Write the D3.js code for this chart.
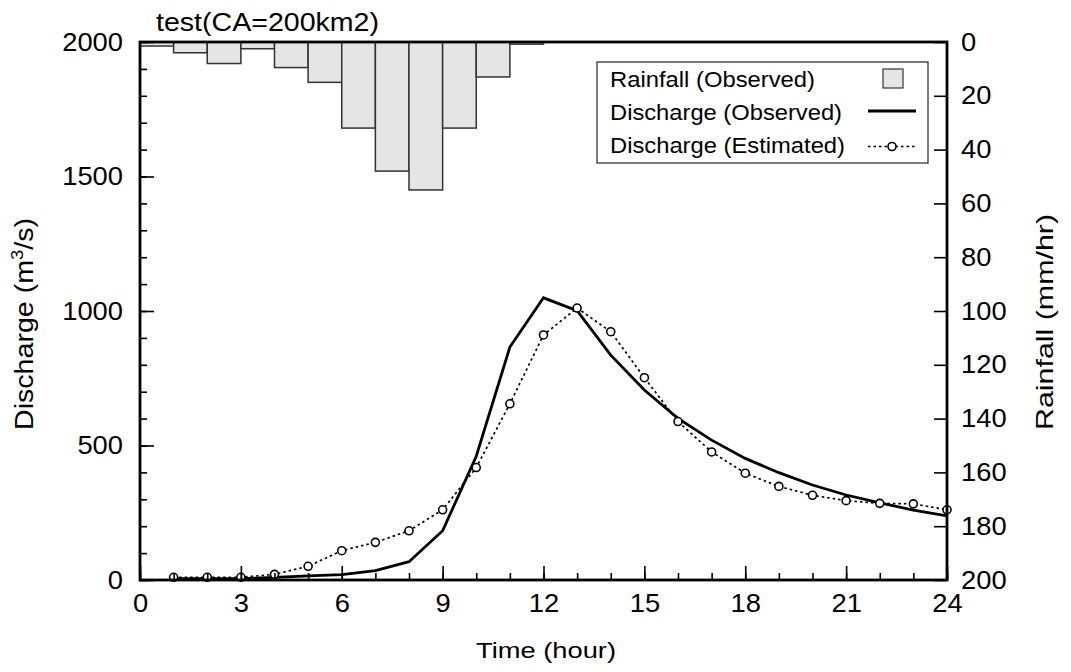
<!DOCTYPE html>
<html>
<head>
<meta charset="utf-8">
<script src="https://cdn.jsdelivr.net/npm/d3@7"></script>
<style>
  body { margin: 0; background: #fff; }
  svg text { font-family: "Liberation Sans", Arial, sans-serif; fill: #000; }
</style>
</head>
<body>
<svg id="chart" width="1071" height="672"></svg>
<script>
// rainfall per hour, bar i covers hour i-1..i
const rainHours = [1, 2, 3, 4, 5, 6, 7, 8, 9, 10, 11, 12];
const rainfall = [1.5, 4, 8, 2.5, 9.5, 15, 32, 48, 55, 32, 13, 0.8];

const hours = [1, 2, 3, 4, 5, 6, 7, 8, 9, 10, 11, 12, 13, 14, 15, 16, 17, 18, 19, 20, 21, 22, 23, 24];
const qObserved = [5, 5, 5, 10, 15, 20, 35, 68, 183, 460, 866, 1049, 1001, 836, 706, 601, 520, 452, 399, 353, 316, 287, 260, 238];
const qEstimated = [10, 10, 10, 21, 51, 109, 140, 183, 261, 418, 655, 911, 1011, 923, 752, 589, 476, 397, 348, 315, 295, 285, 283, 261];

const xTicks = [0, 3, 6, 9, 12, 15, 18, 21, 24];
const qTicks = [0, 500, 1000, 1500, 2000];
const rTicks = [0, 20, 40, 60, 80, 100, 120, 140, 160, 180, 200];

const legendItems = ['Rainfall (Observed)', 'Discharge (Observed)', 'Discharge (Estimated)'];

const margin = { top: 42, left: 140, right: 124, bottom: 92 };
const W = 1071, H = 672;
const w = W - margin.left - margin.right;
const h = H - margin.top - margin.bottom;

// the source renderer draws text a bit wider than Liberation Sans
const stretch = (sel, len) => sel.attr('textLength', len).attr('lengthAdjust', 'spacingAndGlyphs');

const svg = d3.select('#chart');
const g = svg.append('g').attr('transform', `translate(${margin.left},${margin.top})`);

const x = d3.scaleLinear().domain([0, 24]).range([0, w]);
const yQ = d3.scaleLinear().domain([0, 2000]).range([h, 0]);
const yR = d3.scaleLinear().domain([0, 200]).range([0, h]);

// rainfall bars hanging from the top
g.selectAll('rect.rain')
    .data(rainHours)
    .enter()
    .append('rect')
    .attr('class', 'rain')
    .attr('x', (d) => x(d - 1))
    .attr('y', 0)
    .attr('width', (d) => x(d) - x(d - 1))
    .attr('height', (d, i) => yR(rainfall[i]))
    .style('fill', '#e5e5e5')
    .style('stroke', '#333')
    .style('stroke-width', 1.5);

// lines
const line = d3.line().x((d, i) => x(hours[i])).y((d) => yQ(d));

g.append('path')
    .datum(qObserved)
    .attr('d', line)
    .style('fill', 'none')
    .style('stroke', '#000')
    .style('stroke-width', 2.8);

g.append('path')
    .datum(qEstimated)
    .attr('d', line)
    .style('fill', 'none')
    .style('stroke', '#000')
    .style('stroke-width', 1.7)
    .style('stroke-dasharray', '2.5,3');

g.selectAll('circle.est')
    .data(qEstimated)
    .enter()
    .append('circle')
    .attr('class', 'est')
    .attr('cx', (d, i) => x(hours[i]))
    .attr('cy', (d) => yQ(d))
    .attr('r', 4)
    .style('fill', '#fff')
    .style('stroke', '#000')
    .style('stroke-width', 1.6);

// axes with inward ticks
const xAxis = g.append('g').attr('transform', `translate(0,${h})`)
    .call(d3.axisBottom(x).tickValues(xTicks).tickSize(-14).tickPadding(8).tickFormat(d3.format('d')));
g.append('g').attr('transform', `translate(0,${h})`)
    .call(d3.axisBottom(x).tickValues(d3.range(0, 25)).tickSize(-7).tickFormat(''));

const yAxisL = g.append('g')
    .call(d3.axisLeft(yQ).tickValues(qTicks).tickSize(-14).tickPadding(17).tickFormat(d3.format('d')));
g.append('g')
    .call(d3.axisLeft(yQ).tickValues(d3.range(0, 2001, 100)).tickSize(-7).tickFormat(''));

const yAxisR = g.append('g').attr('transform', `translate(${w},0)`)
    .call(d3.axisRight(yR).tickValues(rTicks).tickSize(-13).tickPadding(14).tickFormat(d3.format('d')));

g.selectAll('.domain').remove();
g.selectAll('.tick line').style('stroke', '#000').style('stroke-width', 1.6);
g.selectAll('.tick text')
    .style('font-size', '25px')
    .style('font-family', '"Liberation Sans", Arial, sans-serif')
    .each(function () {
        const t = d3.select(this);
        if (t.text() !== '') stretch(t, t.text().length * 15.2);
    });
xAxis.selectAll('.tick text').attr('dy', '0.95em');

// frame
g.append('rect')
    .attr('x', 0).attr('y', 0).attr('width', w).attr('height', h)
    .style('fill', 'none').style('stroke', '#000').style('stroke-width', 2.8);

// titles
stretch(svg.append('text').attr('x', 156).attr('y', 31).style('font-size', '25px').text('test(CA=200km2)'), 223);

stretch(svg.append('text')
    .attr('x', 476).attr('y', 658)
    .style('font-size', '22px').text('Time (hour)'), 140);

const yl = svg.append('text')
    .attr('transform', `translate(33,430) rotate(-90)`)
    .style('font-size', '25px');
yl.append('tspan').text('Discharge (m');
yl.append('tspan').attr('dy', -10).style('font-size', '16px').text('3');
yl.append('tspan').attr('dy', 10).text('/s)');
stretch(yl, 212);

stretch(svg.append('text')
    .attr('transform', `translate(1053,430) rotate(-90)`)
    .style('font-size', '24px').text('Rainfall (mm/hr)'), 216);

// legend
const lg = svg.append('g');
lg.append('rect').attr('x', 597).attr('y', 62).attr('width', 331).attr('height', 101)
    .style('fill', '#fff').style('stroke', '#333').style('stroke-width', 1.3);

const legendWidths = [205, 232, 235];
lg.selectAll('text.leg')
    .data(legendItems)
    .enter()
    .append('text')
    .attr('class', 'leg')
    .attr('x', 610)
    .attr('y', (d, i) => 87 + i * 33.2)
    .style('font-size', '22px')
    .attr('textLength', (d, i) => legendWidths[i])
    .attr('lengthAdjust', 'spacingAndGlyphs')
    .text((d) => d);

lg.append('rect').attr('x', 883).attr('y', 69).attr('width', 20).attr('height', 19)
    .style('fill', '#e5e5e5').style('stroke', '#333').style('stroke-width', 1.2);
lg.append('line').attr('x1', 868).attr('x2', 916).attr('y1', 111).attr('y2', 111)
    .style('stroke', '#000').style('stroke-width', 2.8);
lg.append('line').attr('x1', 868).attr('x2', 916).attr('y1', 146.5).attr('y2', 146.5)
    .style('stroke', '#000').style('stroke-width', 1.7).style('stroke-dasharray', '2.5,3');
lg.append('circle').attr('cx', 892).attr('cy', 146.5).attr('r', 4)
    .style('fill', '#fff').style('stroke', '#000').style('stroke-width', 1.6);
</script>
</body>
</html>
